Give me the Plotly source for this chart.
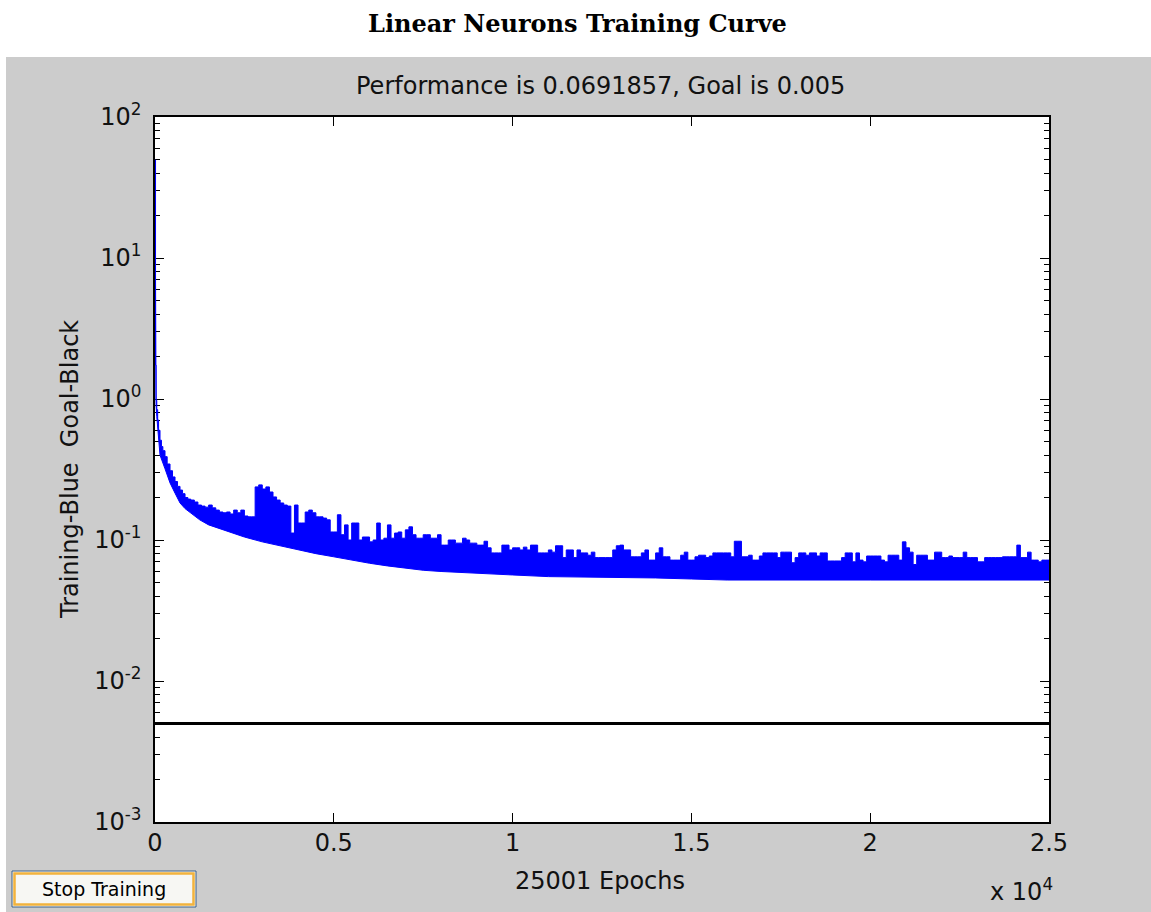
import plotly.graph_objects as go

# ---------------- data ----------------
title_text = "Linear Neurons Training Curve"
subtitle_text = "Performance is 0.0691857, Goal is 0.005"
x_title = "25001 Epochs"
y_title = "Training-Blue  Goal-Black"

goal_value = 0.005
total_epochs = 25000

# early part of the training curve (steep drop), upper edge of the blue band
early_epochs = [0, 15, 30, 50, 75, 100, 140, 180, 220, 280, 340, 420, 490,
                560, 630, 700, 770, 840, 920]
early_upper = [49.5, 1.74, 0.98, 0.84, 0.71, 0.60, 0.51, 0.46, 0.43, 0.39,
               0.346, 0.31, 0.28, 0.26, 0.24, 0.226, 0.213, 0.20, 0.195]

# upper envelope of the noisy performance, every 100 epochs from 1000 to 25000
grid_start = 1000
grid_step = 100
grid_upper = [
    0.192, 0.186, 0.177, 0.174, 0.171, 0.177, 0.169, 0.163, 0.158, 0.156,
    0.158, 0.153, 0.163, 0.156, 0.163, 0.148, 0.146, 0.146, 0.238, 0.246,
    0.230, 0.238, 0.219, 0.202, 0.192, 0.183, 0.177, 0.174, 0.112, 0.177,
    0.132, 0.132, 0.158, 0.163, 0.156, 0.146, 0.146, 0.143, 0.139, 0.114,
    0.114, 0.151, 0.109, 0.128, 0.100, 0.132, 0.132, 0.100, 0.105, 0.105,
    0.097, 0.100, 0.132, 0.100, 0.103, 0.128, 0.103, 0.112, 0.114, 0.103,
    0.118, 0.124, 0.109, 0.103, 0.103, 0.109, 0.109, 0.103, 0.103, 0.109,
    0.092, 0.092, 0.100, 0.100, 0.095, 0.095, 0.103, 0.100, 0.095, 0.095,
    0.092, 0.092, 0.098, 0.088, 0.081, 0.081, 0.081, 0.092, 0.092, 0.085,
    0.088, 0.088, 0.085, 0.089, 0.085, 0.092, 0.092, 0.081, 0.081, 0.081,
    0.085, 0.082, 0.091, 0.091, 0.075, 0.085, 0.085, 0.075, 0.085, 0.081,
    0.081, 0.078, 0.082, 0.075, 0.075, 0.075, 0.075, 0.075, 0.085, 0.091,
    0.092, 0.085, 0.085, 0.076, 0.076, 0.076, 0.081, 0.085, 0.072, 0.072,
    0.081, 0.088, 0.076, 0.076, 0.072, 0.072, 0.072, 0.078, 0.082, 0.072,
    0.072, 0.076, 0.078, 0.078, 0.075, 0.077, 0.081, 0.081, 0.081, 0.081,
    0.081, 0.076, 0.098, 0.098, 0.076, 0.076, 0.078, 0.072, 0.072, 0.077,
    0.081, 0.081, 0.081, 0.081, 0.075, 0.082, 0.082, 0.082, 0.069, 0.075,
    0.081, 0.081, 0.078, 0.081, 0.081, 0.077, 0.081, 0.081, 0.071, 0.071,
    0.071, 0.071, 0.075, 0.081, 0.081, 0.070, 0.081, 0.072, 0.070, 0.077,
    0.077, 0.077, 0.077, 0.072, 0.070, 0.078, 0.078, 0.078, 0.072, 0.097,
    0.088, 0.082, 0.067, 0.078, 0.078, 0.078, 0.072, 0.072, 0.082, 0.082,
    0.075, 0.075, 0.077, 0.075, 0.075, 0.075, 0.082, 0.075, 0.075, 0.075,
    0.070, 0.070, 0.075, 0.075, 0.075, 0.075, 0.075, 0.076, 0.076, 0.076,
    0.076, 0.092, 0.075, 0.075, 0.082, 0.072, 0.072, 0.070, 0.072, 0.072,
    0.0692,
]

# lower envelope (smooth baseline of the performance)
lower_epochs = [0, 15, 30, 50, 100, 140, 280, 420, 560, 700, 840, 1000, 1250,
                1500, 2000, 2500, 3000, 3500, 4000, 4500, 5000, 5500, 6000, 6500,
                7000, 7500, 8000, 9000, 10000, 11000, 12000, 13000, 14000, 15000,
                16000, 20000, 25000]
lower_values = [49.5, 1.74, 0.90, 0.75, 0.52, 0.40, 0.32, 0.254, 0.215, 0.183,
                0.167, 0.155, 0.139, 0.128, 0.116, 0.105, 0.097, 0.091, 0.085,
                0.080, 0.076, 0.072, 0.0684, 0.0655, 0.063, 0.061, 0.0598,
                0.0578, 0.0565, 0.055, 0.0547, 0.0543, 0.0538, 0.0529, 0.052,
                0.052, 0.052]

x_tick_vals = [0, 5000, 10000, 15000, 20000, 25000]
x_tick_text = ["0", "0.5", "1", "1.5", "2", "2.5"]
y_tick_vals = [1e-3, 1e-2, 1e-1, 1e0, 1e1, 1e2]
y_tick_text = ["10<sup>-3</sup>", "10<sup>-2</sup>", "10<sup>-1</sup>",
               "10<sup>0</sup>", "10<sup>1</sup>", "10<sup>2</sup>"]

# ---------------- build ----------------
grid_epochs = [grid_start + grid_step * i for i in range(len(grid_upper))]
upper_epochs = early_epochs + grid_epochs
upper_values = early_upper + grid_upper

W, H = 1151, 912
L, R, T, B = 155, 1049, 117, 822  # plot area in pixels


def px(x):
    return (x - L) / (R - L)


def py(y):
    return (B - y) / (B - T)


BLUE = "#0000FF"
SANS = "DejaVu Sans"

fig = go.Figure()
fig.add_trace(go.Scatter(x=lower_epochs, y=lower_values, mode="lines",
                         line=dict(color=BLUE, width=1), hoverinfo="skip"))
fig.add_trace(go.Scatter(x=upper_epochs, y=upper_values, mode="lines",
                         line=dict(color=BLUE, width=1, shape="hv"),
                         fill="tonexty", fillcolor=BLUE, hoverinfo="skip"))
fig.add_trace(go.Scatter(x=[0, total_epochs], y=[goal_value, goal_value], mode="lines",
                         line=dict(color="black", width=3), hoverinfo="skip"))

minor_vals = [m * 10 ** d for d in range(-3, 2) for m in range(2, 10)]

fig.update_layout(
    width=W, height=H, autosize=False,
    margin=dict(l=L, r=W - R, t=T, b=H - B, pad=0),
    paper_bgcolor="#CCCCCC", plot_bgcolor="white",
    showlegend=False,
    font=dict(family=SANS, size=24, color="#111111"),
    xaxis=dict(range=[0, total_epochs], tickmode="array", tickvals=x_tick_vals,
               ticktext=x_tick_text, ticks="inside", ticklen=9, tickwidth=1,
               tickcolor="black", showline=True, linecolor="black", linewidth=1.5,
               mirror="allticks", showgrid=False, zeroline=False,
               tickfont=dict(family=SANS, size=24, color="#111111"),
               ticklabelstandoff=-2, automargin=False),
    yaxis=dict(type="log", range=[-3, 2], tickmode="array", tickvals=y_tick_vals,
               ticktext=y_tick_text, ticks="inside", ticklen=9, tickwidth=1,
               tickcolor="black", showline=True, linecolor="black", linewidth=1.5,
               mirror="allticks", showgrid=False, zeroline=False,
               tickfont=dict(family=SANS, size=24, color="#111111"),
               ticklabelstandoff=7, automargin=False, layer="below traces",
               minor=dict(tickmode="array", tickvals=minor_vals, ticks="inside",
                          ticklen=5, tickwidth=1, tickcolor="black", showgrid=False)),
)

shapes = [
    # white title band and left strip
    dict(type="rect", xref="paper", yref="paper", x0=px(-5), x1=px(W + 5),
         y0=py(57), y1=py(-5), fillcolor="white", line=dict(width=0), layer="below"),
    dict(type="rect", xref="paper", yref="paper", x0=px(-5), x1=px(6),
         y0=py(H + 5), y1=py(-5), fillcolor="white", line=dict(width=0), layer="below"),
    # Stop Training button
    dict(type="rect", xref="paper", yref="paper", x0=px(12), x1=px(196),
         y0=py(907), y1=py(871), fillcolor="#F7F7F3",
         line=dict(color="#3A5F86", width=1), layer="above"),
    dict(type="rect", xref="paper", yref="paper", x0=px(14.5), x1=px(193.5),
         y0=py(904.5), y1=py(873.5), fillcolor="rgba(0,0,0,0)",
         line=dict(color="#F2B33D", width=2.5), layer="above"),
]
fig.update_layout(shapes=shapes)

annotations = [
    dict(text="<b>" + title_text + "</b>", x=px(577), y=py(24), xref="paper", yref="paper",
         showarrow=False, xanchor="center", yanchor="middle",
         font=dict(family="DejaVu Serif", size=24, color="black")),
    dict(text=subtitle_text, x=px(600), y=py(86), xref="paper", yref="paper",
         showarrow=False, xanchor="center", yanchor="middle",
         font=dict(family=SANS, size=24, color="#111111")),
    dict(text=x_title, x=px(600), y=py(881), xref="paper", yref="paper",
         showarrow=False, xanchor="center", yanchor="middle",
         font=dict(family=SANS, size=24, color="#111111")),
    dict(text=y_title, x=px(70), y=py(470), xref="paper", yref="paper",
         showarrow=False, xanchor="center", yanchor="middle", textangle=-90,
         font=dict(family=SANS, size=24, color="#111111")),
    dict(text="x 10<sup>4</sup>", x=px(988), y=py(890), xref="paper", yref="paper",
         showarrow=False, xanchor="left", yanchor="middle",
         font=dict(family=SANS, size=24, color="#111111")),
    dict(text="Stop Training", x=px(104), y=py(889), xref="paper", yref="paper",
         showarrow=False, xanchor="center", yanchor="middle",
         font=dict(family=SANS, size=19, color="black")),
]
fig.update_layout(annotations=annotations)

fig.write_html("out.html", config={"displayModeBar": False},
               post_script="document.body.style.margin='0px';"
                           "document.body.style.overflow='hidden';")
